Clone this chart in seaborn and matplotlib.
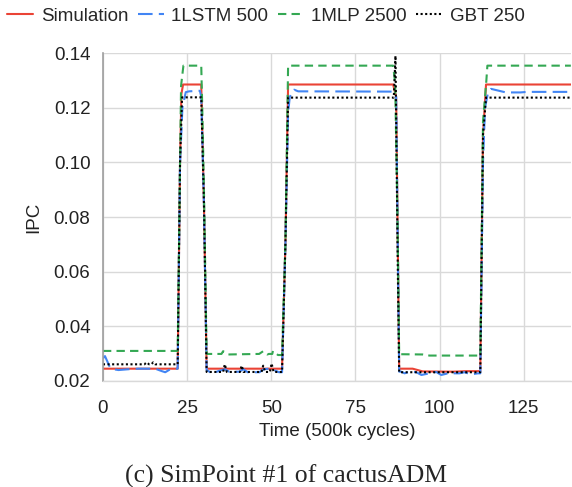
import numpy as np
import pandas as pd
import matplotlib
matplotlib.use('Agg')
import matplotlib.pyplot as plt
import seaborn as sns

# breakpoints (time, IPC)
SIM_T = [0, 22.2, 22.9, 23.3, 23.8, 29.2, 30.0, 30.8, 53.2, 54.2, 55.0, 86.2, 87.1, 87.5, 88.0,
         92.0, 95.0, 104.0, 108.0, 112.1, 112.9, 113.3, 113.8, 139]
SIM_V = [0.0245, 0.0245, 0.100, 0.125, 0.1285, 0.1285, 0.085, 0.0245, 0.0245, 0.070, 0.1285, 0.1285, 0.124, 0.080, 0.0245,
         0.0245, 0.0235, 0.0234, 0.0236, 0.0236, 0.110, 0.118, 0.1285, 0.1285]

LSTM_T = [0, 0.6, 2.1, 3.1, 4.6, 7.6, 10.5, 15.5, 17.5, 18.5, 20.0, 22.2, 22.9, 23.6, 24.6, 25.6, 28.8, 29.2, 30.0, 30.8,
          32.7, 34.0, 36.2, 37.5, 40.5, 41.7, 43.0, 46.5, 47.8, 49.3, 50.8, 52.3, 53.2, 54.2, 55.0, 55.5, 56.8, 58.0,
          86.2, 87.1, 87.5, 88.0, 88.6, 89.6, 91.1, 93.1, 94.6, 97.0, 99.0, 100.5, 102.5, 105.9, 107.4, 109.4, 111.4,
          112.1, 112.9, 113.5, 114.3, 115.3, 119.7, 124.0, 126.0, 139]
LSTM_V = [0.0283, 0.0291, 0.0249, 0.0243, 0.0240, 0.0243, 0.0245, 0.0245, 0.0236, 0.0232, 0.0243, 0.0245, 0.100, 0.120, 0.1257, 0.1260, 0.1262, 0.124, 0.085, 0.0240,
          0.0226, 0.0235, 0.0243, 0.0234, 0.0234, 0.0243, 0.0232, 0.0232, 0.0243, 0.0245, 0.0240, 0.0232, 0.0232, 0.070, 0.118, 0.124, 0.1266, 0.1260,
          0.1259, 0.124, 0.080, 0.0234, 0.0234, 0.0228, 0.0234, 0.0232, 0.0222, 0.0228, 0.0233, 0.0222, 0.0228, 0.0228, 0.0232, 0.0224, 0.0228,
          0.0228, 0.100, 0.120, 0.125, 0.1269, 0.1256, 0.1256, 0.1258, 0.1258]

MLP_T = [0, 22.2, 22.9, 23.2, 23.9, 29.2, 29.5, 30.0, 30.8, 35.2, 35.7, 37.2, 46.4, 47.6, 48.8, 49.3, 50.3, 50.5, 52.0, 53.2,
         54.2, 55.0, 86.2, 86.8, 87.5, 88.0, 95.0, 97.0, 112.1, 112.9, 113.9, 114.2, 139]
MLP_V = [0.0310, 0.0310, 0.100, 0.128, 0.1354, 0.1354, 0.120, 0.090, 0.0299, 0.0299, 0.0309, 0.0297, 0.0299, 0.0309, 0.0297, 0.0299, 0.0299, 0.0310, 0.0295, 0.0295,
         0.070, 0.1354, 0.1354, 0.129, 0.080, 0.0298, 0.0297, 0.0293, 0.0293, 0.115, 0.130, 0.1354, 0.1354]

GBT_T = [0, 12.3, 13.0, 13.7, 14.4, 14.9, 15.5, 22.2, 22.9, 23.5, 29.2, 30.0, 30.8, 35.7, 36.2, 36.8, 40.7, 41.2, 41.8,
         47.1, 47.6, 48.2, 49.6, 50.1, 50.7, 53.2, 54.2, 55.0, 86.4, 86.9, 87.6, 88.0, 112.1, 112.9, 113.8, 139]
GBT_V = [0.0261, 0.0261, 0.0268, 0.0261, 0.0261, 0.0268, 0.0261, 0.0261, 0.100, 0.1238, 0.1238, 0.085, 0.0233, 0.0233, 0.0261, 0.0233, 0.0233, 0.0256, 0.0233,
         0.0233, 0.0256, 0.0233, 0.0233, 0.0264, 0.0233, 0.0233, 0.070, 0.1237, 0.1237, 0.139, 0.060, 0.0232, 0.0232, 0.110, 0.1237, 0.1237]

SERIES = ['Simulation', '1LSTM 500', '1MLP 2500', 'GBT 250']
COLORS = {'Simulation': '#ea4335', '1LSTM 500': '#4285f4', '1MLP 2500': '#34a853', 'GBT 250': '#000000'}
DASHES = {'Simulation': '', '1LSTM 500': (7, 3), '1MLP 2500': (4, 2.5), 'GBT 250': (1, 1.2)}

df = pd.concat([
    pd.DataFrame({'time': SIM_T, 'ipc': SIM_V, 'model': 'Simulation'}),
    pd.DataFrame({'time': LSTM_T, 'ipc': LSTM_V, 'model': '1LSTM 500'}),
    pd.DataFrame({'time': MLP_T, 'ipc': MLP_V, 'model': '1MLP 2500'}),
    pd.DataFrame({'time': GBT_T, 'ipc': GBT_V, 'model': 'GBT 250'}),
], ignore_index=True)

sns.set_style('whitegrid')
plt.rcParams['font.family'] = ['Liberation Sans', 'DejaVu Sans']
plt.rcParams['font.size'] = 13.3

fig, ax = plt.subplots(figsize=(5.72, 4.87), dpi=100)
fig.subplots_adjust(left=0.180, right=0.998, bottom=0.2177, top=0.891)

sns.lineplot(data=df, x='time', y='ipc', hue='model', style='model', hue_order=SERIES,
             style_order=SERIES, palette=COLORS, dashes=DASHES, linewidth=1.5,
             estimator=None, sort=False, ax=ax)

ax.set_xlim(0, 139)
ax.set_ylim(0.02, 0.14)
ax.set_xticks([0, 25, 50, 75, 100, 125])
ax.set_yticks([0.02, 0.04, 0.06, 0.08, 0.10, 0.12, 0.14])
ax.yaxis.set_major_formatter(matplotlib.ticker.FormatStrFormatter('%.2f'))
ax.tick_params(axis='both', length=0, labelsize=13.5, colors='#222222')
ax.tick_params(axis='y', pad=9)
ax.tick_params(axis='x', pad=14)
ax.grid(True, color='#d9d9d9', linewidth=1.0)
for s in ['top', 'right']:
    ax.spines[s].set_visible(False)
ax.spines['left'].set_color('#9e9e9e')
ax.spines['left'].set_linewidth(1.2)
ax.spines['bottom'].set_color('#d9d9d9')
ax.spines['bottom'].set_linewidth(1.0)

ax.set_xlabel('Time (500k cycles)', fontsize=13.5, color='#222222', labelpad=4)
ax.set_ylabel('IPC', fontsize=13.5, color='#222222', labelpad=8)

handles, labels = ax.get_legend_handles_labels()
ax.get_legend().remove()
fig.legend(handles, labels, loc='center', bbox_to_anchor=(0.465, 0.967), ncol=4,
           frameon=False, handlelength=1.4, handletextpad=0.4, columnspacing=0.5,
           fontsize=13.5)

fig.text(0.5, 0.009, '(c) SimPoint #1 of cactusADM', ha='center', va='baseline',
         family=['Liberation Serif', 'DejaVu Serif'], fontsize=18.5)

fig.savefig('out.png', dpi=100)
